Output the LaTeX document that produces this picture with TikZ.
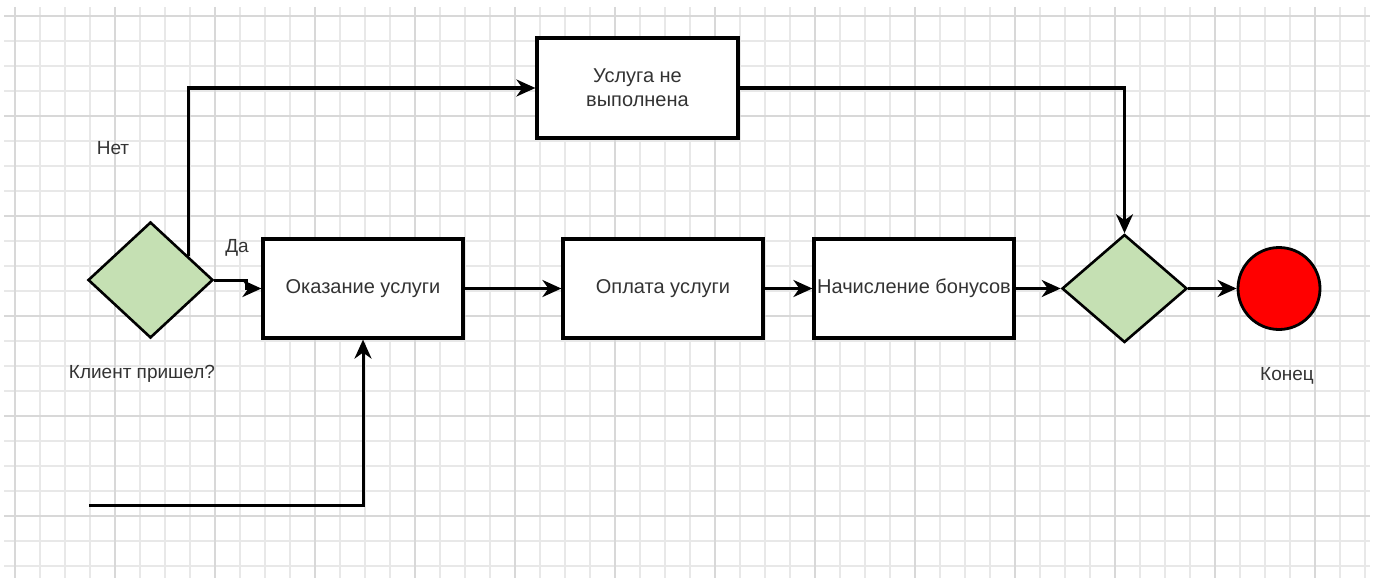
\documentclass[tikz,border=0pt]{standalone}
\usepackage{fontspec}
\setmainfont{Liberation Sans}
\usetikzlibrary{shapes.geometric, arrows.meta, calc}

\definecolor{gridminor}{HTML}{E8E8E8}
\definecolor{gridmajor}{HTML}{D8D8D8}
\definecolor{decisionfill}{HTML}{C5E0B3}
\definecolor{labeltext}{HTML}{333333}

\tikzset{
  minorline/.style={draw=gridminor, line width=1.4pt},
  majorline/.style={draw=gridmajor, line width=1.6pt},
  process/.style={rectangle, draw=black, line width=3.2pt, fill=white,
    minimum width=200pt, minimum height=99pt, inner sep=0pt,
    text=labeltext, font=\fontsize{20}{24}\selectfont, align=center},
  decision/.style={diamond, draw=black, line width=2.6pt, fill=decisionfill,
    inner sep=0pt, minimum width=125pt},
  terminal/.style={circle, draw=black, line width=2.8pt, fill=red,
    minimum size=82pt, inner sep=0pt},
  caption/.style={text=labeltext, font=\fontsize{19}{23}\selectfont, inner sep=0pt},
  flow/.style={draw=black, line width=3pt,
    -{Stealth[length=19pt, width=17pt, inset=6pt]}},
}

\begin{document}
\begin{tikzpicture}[x=1pt, y=-1pt]
\useasboundingbox (0,0) rectangle (1379,578);

% squared paper
\foreach \i in {0,...,54}
  \draw[minorline] ({15+25*\i},7) -- ({15+25*\i},578);
\foreach \j in {0,...,22}
  \draw[minorline] (4,{16+25*\j}) -- (1370,{16+25*\j});
\foreach \i in {0,...,13}
  \draw[majorline] ({15+100*\i},7) -- ({15+100*\i},578);
\foreach \j in {0,...,5}
  \draw[majorline] (4,{16+100*\j}) -- (1370,{16+100*\j});

% process steps
\node[process] (serve)  at (363,288.5)  {Оказание услуги};
\node[process] (pay)    at (663,288.5)  {Оплата услуги};
\node[process] (bonus)  at (914,288.5)  {Начисление бонусов};
\node[process, minimum width=201pt, minimum height=100pt] (failed) at (637.5,88) {Услуга не\\выполнена};

% decisions and end
\node[decision, minimum height=116pt] (came)  at (150.5,280) {};
\node[decision, minimum height=108pt] (merge) at (1124.5,288.5) {};
\node[terminal] (finish) at (1279,288.5) {};

% captions
\node[caption] (no)     at (113,148) {Нет};
\node[caption] (yes)    at (237,248) {Да};
\node[caption] (ask)    at (142,374) {Клиент пришел?};
\node[caption] (endtxt) at (1287,376) {Конец};

% connectors
\coordinate (nostart) at ($(came.north)!0.6!(came.east)$);
\draw[flow] (nostart) |- (failed.west);
\draw[flow] (failed.east) -| (merge.north);
\draw[flow] (came.east) -- ++(32,0) |- (serve.west);
\draw[flow] (serve.east) -- (pay.west);
\draw[flow] (pay.east) -- (bonus.west);
\draw[flow] (bonus.east) -- (merge.west);
\draw[flow] (merge.east) -- (finish.west);
\coordinate (entry) at (89,505);
\draw[flow] (entry) -| (serve.south);
\end{tikzpicture}
\end{document}
